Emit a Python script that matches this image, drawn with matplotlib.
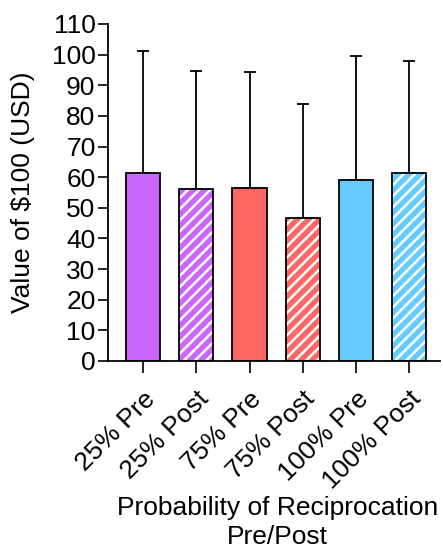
import numpy as np
import matplotlib
matplotlib.use("Agg")
import matplotlib.pyplot as plt

plt.rcParams['font.family'] = ['Liberation Sans', 'DejaVu Sans']
plt.rcParams['hatch.linewidth'] = 1.8

# data
labels = ['25% Pre', '25% Post', '75% Pre', '75% Post', '100% Pre', '100% Post']
means = [61.3, 56.0, 56.5, 46.8, 59.1, 61.5]
sd_upper = [40.0, 38.8, 37.9, 37.0, 40.4, 36.5]
colors = ['#CC66FF', '#CC66FF', '#FF6666', '#FF6666', '#66CCFF', '#66CCFF']
hatched = [False, True, False, True, False, True]

fig = plt.figure(figsize=(4.43, 5.54), dpi=100)
ax = fig.add_axes([0.2438, 0.3484, 0.7494, 0.6083])

x = np.arange(len(labels))
w = 0.64

for i in range(len(labels)):
    if hatched[i]:
        ax.bar(x[i], means[i], w, color=colors[i], edgecolor='white',
               hatch='///', linewidth=0, zorder=2)
        ax.bar(x[i], means[i], w, fill=False, edgecolor='black',
               linewidth=1.3, zorder=3)
    else:
        ax.bar(x[i], means[i], w, color=colors[i], edgecolor='black',
               linewidth=1.3, zorder=2)

ax.errorbar(x, means, yerr=[np.zeros(len(means)), sd_upper], fmt='none',
            ecolor='black', elinewidth=1.3, capsize=4.6, capthick=1.3, zorder=1)

ax.set_xlim(-0.66, 5.58)
ax.set_ylim(0, 110)
ax.set_yticks(np.arange(0, 111, 10))
ax.set_xticks(x)
ax.set_xticklabels(labels, rotation=45, ha='right', rotation_mode='anchor',
                   fontsize=19)
ax.tick_params(axis='y', labelsize=19, length=7, width=1.2, pad=2)
ax.tick_params(axis='x', length=8.5, width=1.2, pad=10)

for s in ['top', 'right']:
    ax.spines[s].set_visible(False)
for s in ['left', 'bottom']:
    ax.spines[s].set_linewidth(1.3)

ax.set_ylabel('Value of $100 (USD)', fontsize=19, labelpad=12)
ax.set_xlabel('Probability of Reciprocation\nPre/Post', fontsize=19,
              linespacing=1.25)
ax.xaxis.set_label_coords(0.51, -0.40)
ax.xaxis.label.set_va('top')

fig.savefig('out.png', dpi=100)
